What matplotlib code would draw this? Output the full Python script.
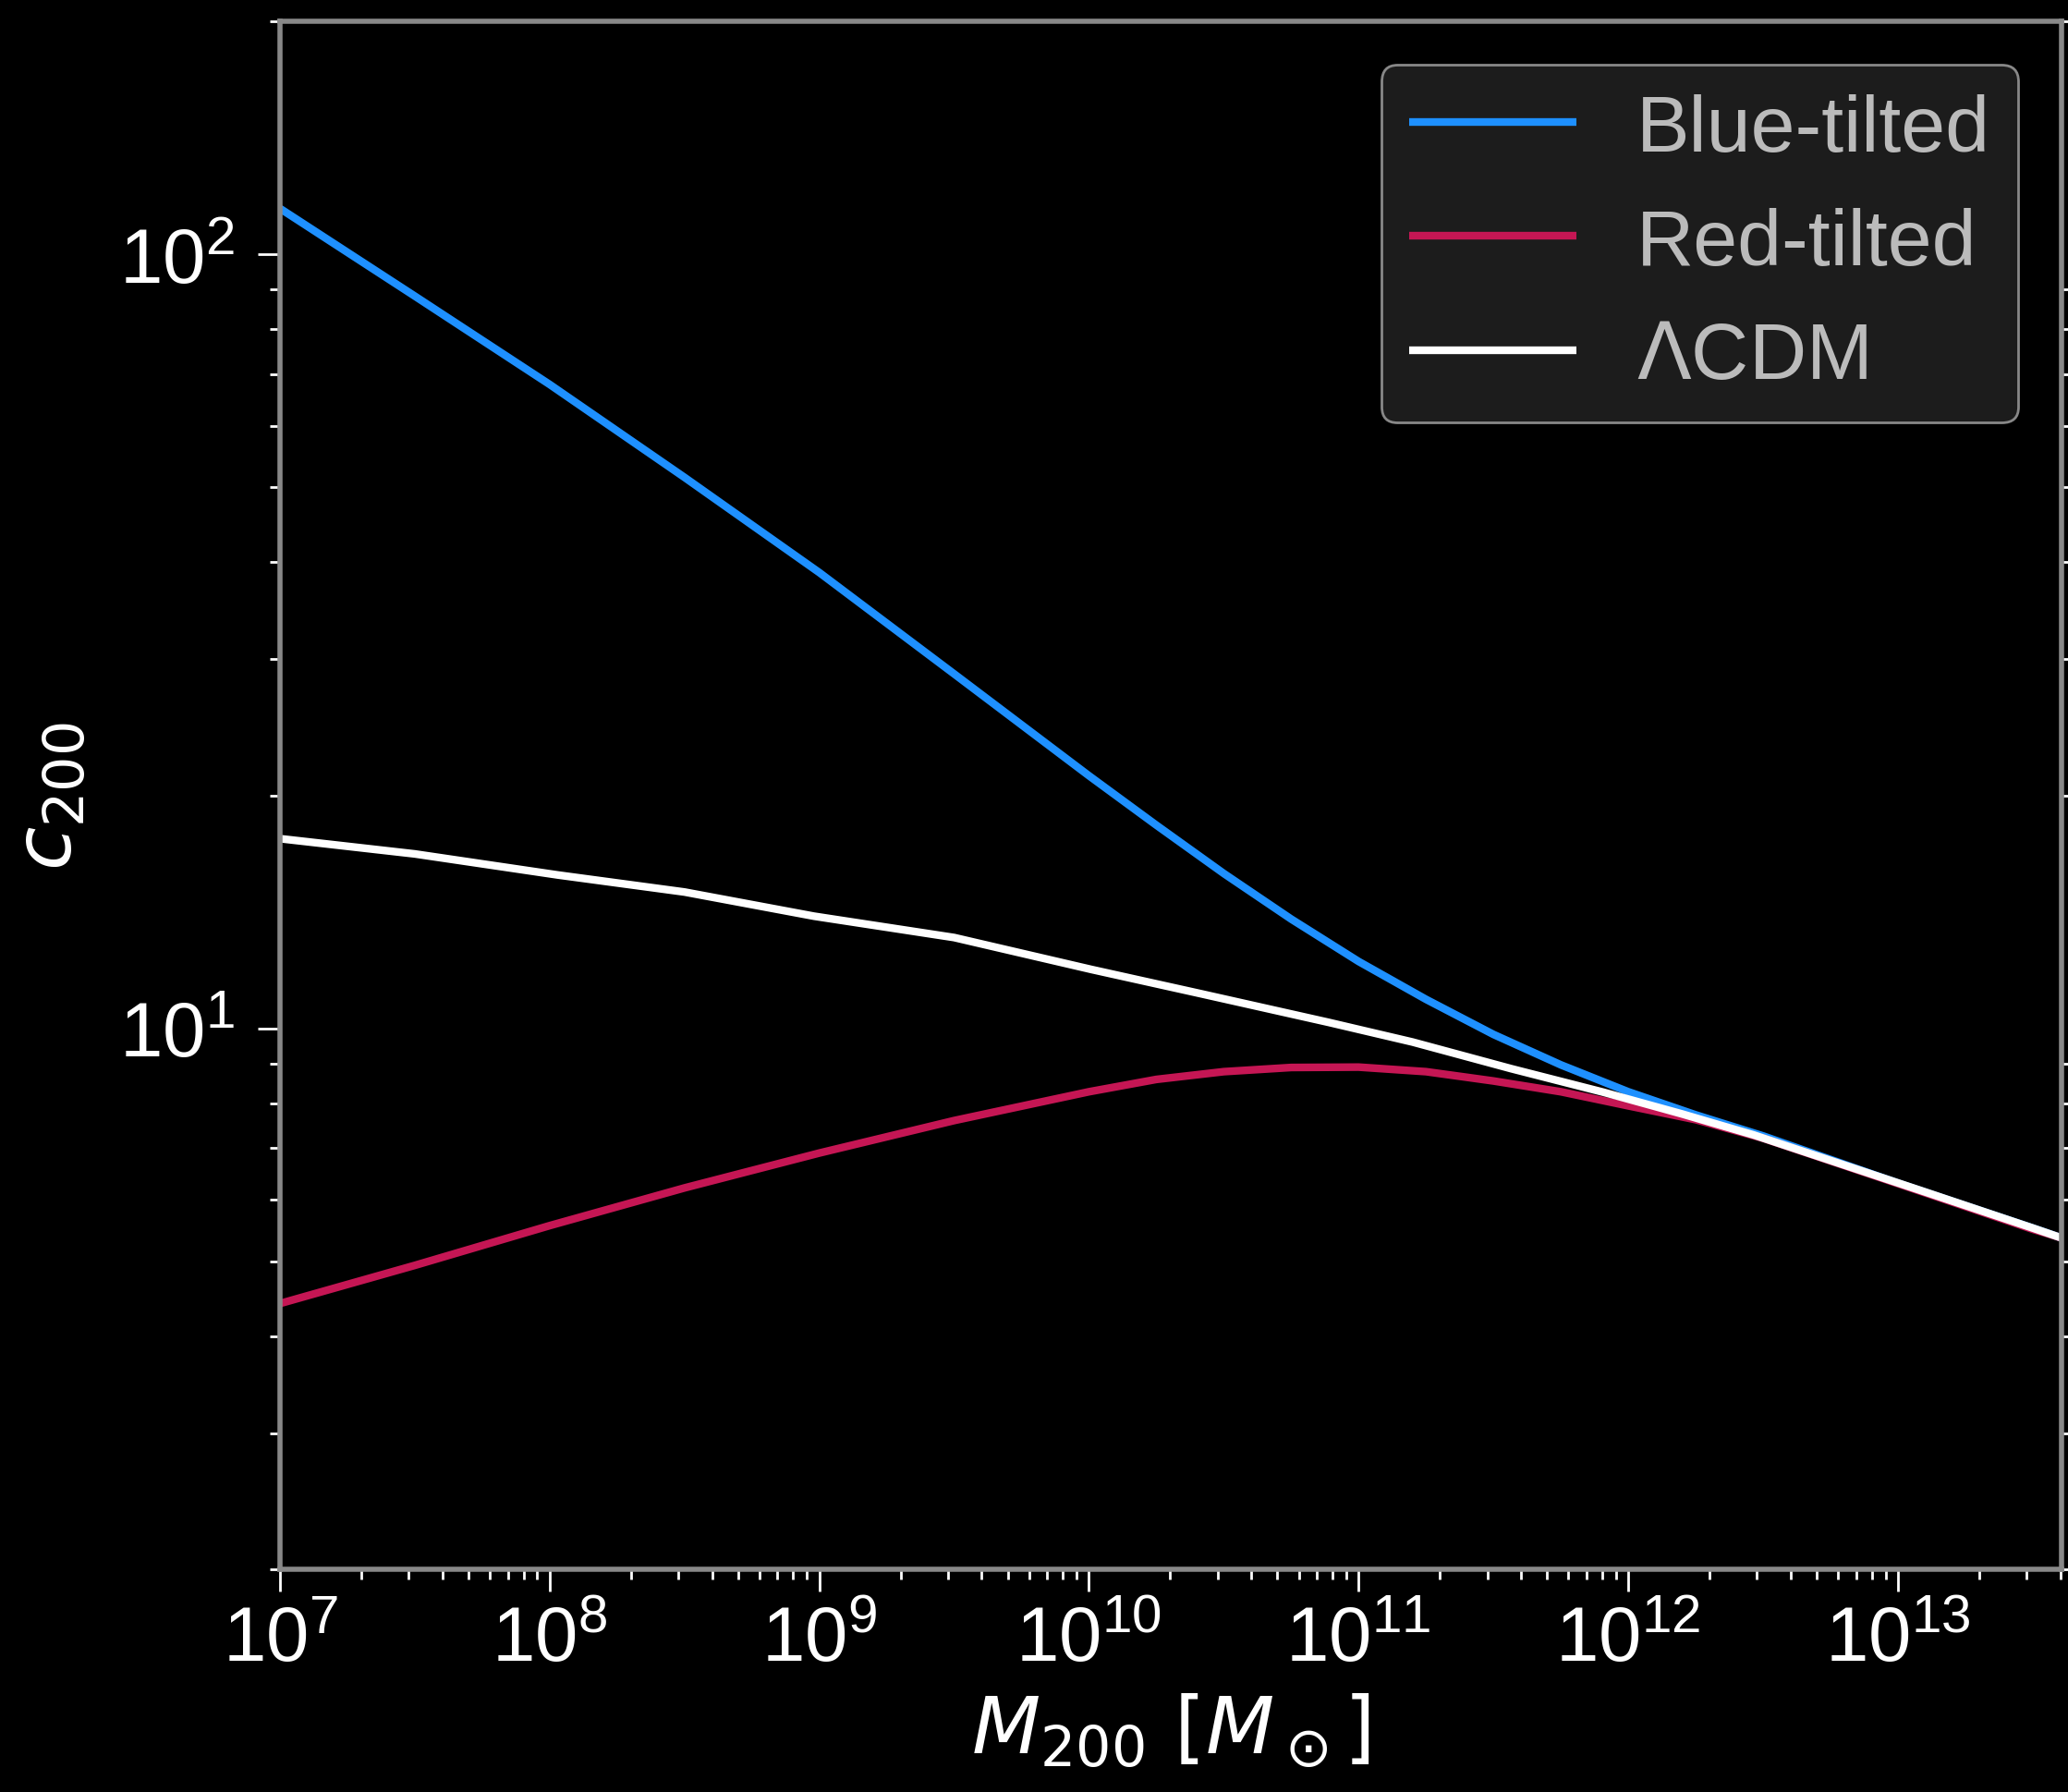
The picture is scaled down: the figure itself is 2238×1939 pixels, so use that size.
import numpy as np
import matplotlib
matplotlib.use("Agg")
import matplotlib.pyplot as plt
from matplotlib.ticker import LogLocator, NullFormatter

plt.rcParams['font.family'] = ['Liberation Sans', 'DejaVu Sans']
plt.rcParams['mathtext.fontset'] = 'dejavusans'

# ---- data ----
logM_blue = [7.0, 7.5, 8.0, 8.5, 9.0, 9.5, 10.0, 10.25, 10.5, 10.75, 11.0, 11.25, 11.5, 11.75, 12.0, 12.25, 12.5, 13.0, 13.5, 13.607]
c_blue = [114.6, 88.3, 67.9, 51.5, 38.8, 28.7, 21.2, 18.3, 15.85, 13.84, 12.2, 10.9, 9.82, 8.97, 8.28, 7.73, 7.26, 6.31, 5.52, 5.36]

logM_red = [7.0, 7.5, 8.0, 8.5, 9.0, 9.5, 10.0, 10.25, 10.5, 10.75, 11.0, 11.25, 11.5, 11.75, 12.0, 12.25, 12.5, 13.0, 13.5, 13.607]
c_red = [4.41, 4.94, 5.56, 6.22, 6.90, 7.60, 8.28, 8.59, 8.79, 8.90, 8.91, 8.79, 8.55, 8.28, 7.94, 7.62, 7.21, 6.30, 5.50, 5.36]

logM_lcdm = [7.0, 7.5, 8.03, 8.5, 8.98, 9.5, 10.006, 10.417, 10.888, 11.2, 11.565, 11.907, 12.2, 12.466, 13.08, 13.5, 13.607]
c_lcdm = [17.58, 16.8, 15.78, 15.0, 13.96, 13.1, 11.92, 11.08, 10.18, 9.6, 8.87, 8.27, 7.75, 7.28, 6.18, 5.52, 5.36]

labels = ['Blue-tilted', 'Red-tilted', r'$\Lambda$CDM']
colors = ['#1e90ff', '#c51654', '#ffffff']

# ---- figure ----
fig = plt.figure(figsize=(11.19, 9.70), dpi=200, facecolor='black')
ax = fig.add_axes([0.1354, 0.1242, 0.8615, 0.8634])
ax.set_facecolor('black')

series = [(logM_blue, c_blue), (logM_red, c_red), (logM_lcdm, c_lcdm)]
for (lm, c), lab, col in zip(series, labels, colors):
    ax.plot(10 ** np.array(lm), c, color=col, lw=3.0, label=lab,
            solid_capstyle='butt', solid_joinstyle='round')

ax.set_xscale('log')
ax.set_yscale('log')
ax.set_xlim(1e7, 10 ** 13.607)
ax.set_ylim(2, 200)

ax.xaxis.set_major_locator(LogLocator(base=10, numticks=20))
ax.xaxis.set_minor_locator(LogLocator(base=10, subs=np.arange(2, 10), numticks=100))
ax.yaxis.set_minor_locator(LogLocator(base=10, subs=np.arange(2, 10), numticks=100))
ax.xaxis.set_minor_formatter(NullFormatter())
ax.yaxis.set_minor_formatter(NullFormatter())

for s in ax.spines.values():
    s.set_color('#888888')
    s.set_linewidth(2.0)

ax.tick_params(which='major', length=8.5, width=1.0, color='white', labelcolor='white',
               labelsize=30, direction='out')
ax.tick_params(which='minor', length=4, width=1.0, color='white', direction='out')
ax.tick_params(which='minor', axis='y', right=True)
ax.tick_params(axis='y', which='major', pad=9)
ax.tick_params(axis='x', which='major', pad=5)

ax.set_xlabel(r'$M_{200}\ [M_\odot]$', color='white', fontsize=31, labelpad=6)
ax.set_ylabel(r'$c_{200}$', color='white', fontsize=31, labelpad=12)

leg = ax.legend(loc='upper right', fontsize=31, facecolor='#1c1c1c', edgecolor='#888888',
                framealpha=1.0, handlelength=2.1, handletextpad=0.75, labelspacing=0.5,
                borderpad=0.35, borderaxespad=0.55, fancybox=True)
leg.get_frame().set_linewidth(1.0)
for t in leg.get_texts():
    t.set_color('#bbbbbb')

fig.savefig('out.png', dpi=200, facecolor='black')
